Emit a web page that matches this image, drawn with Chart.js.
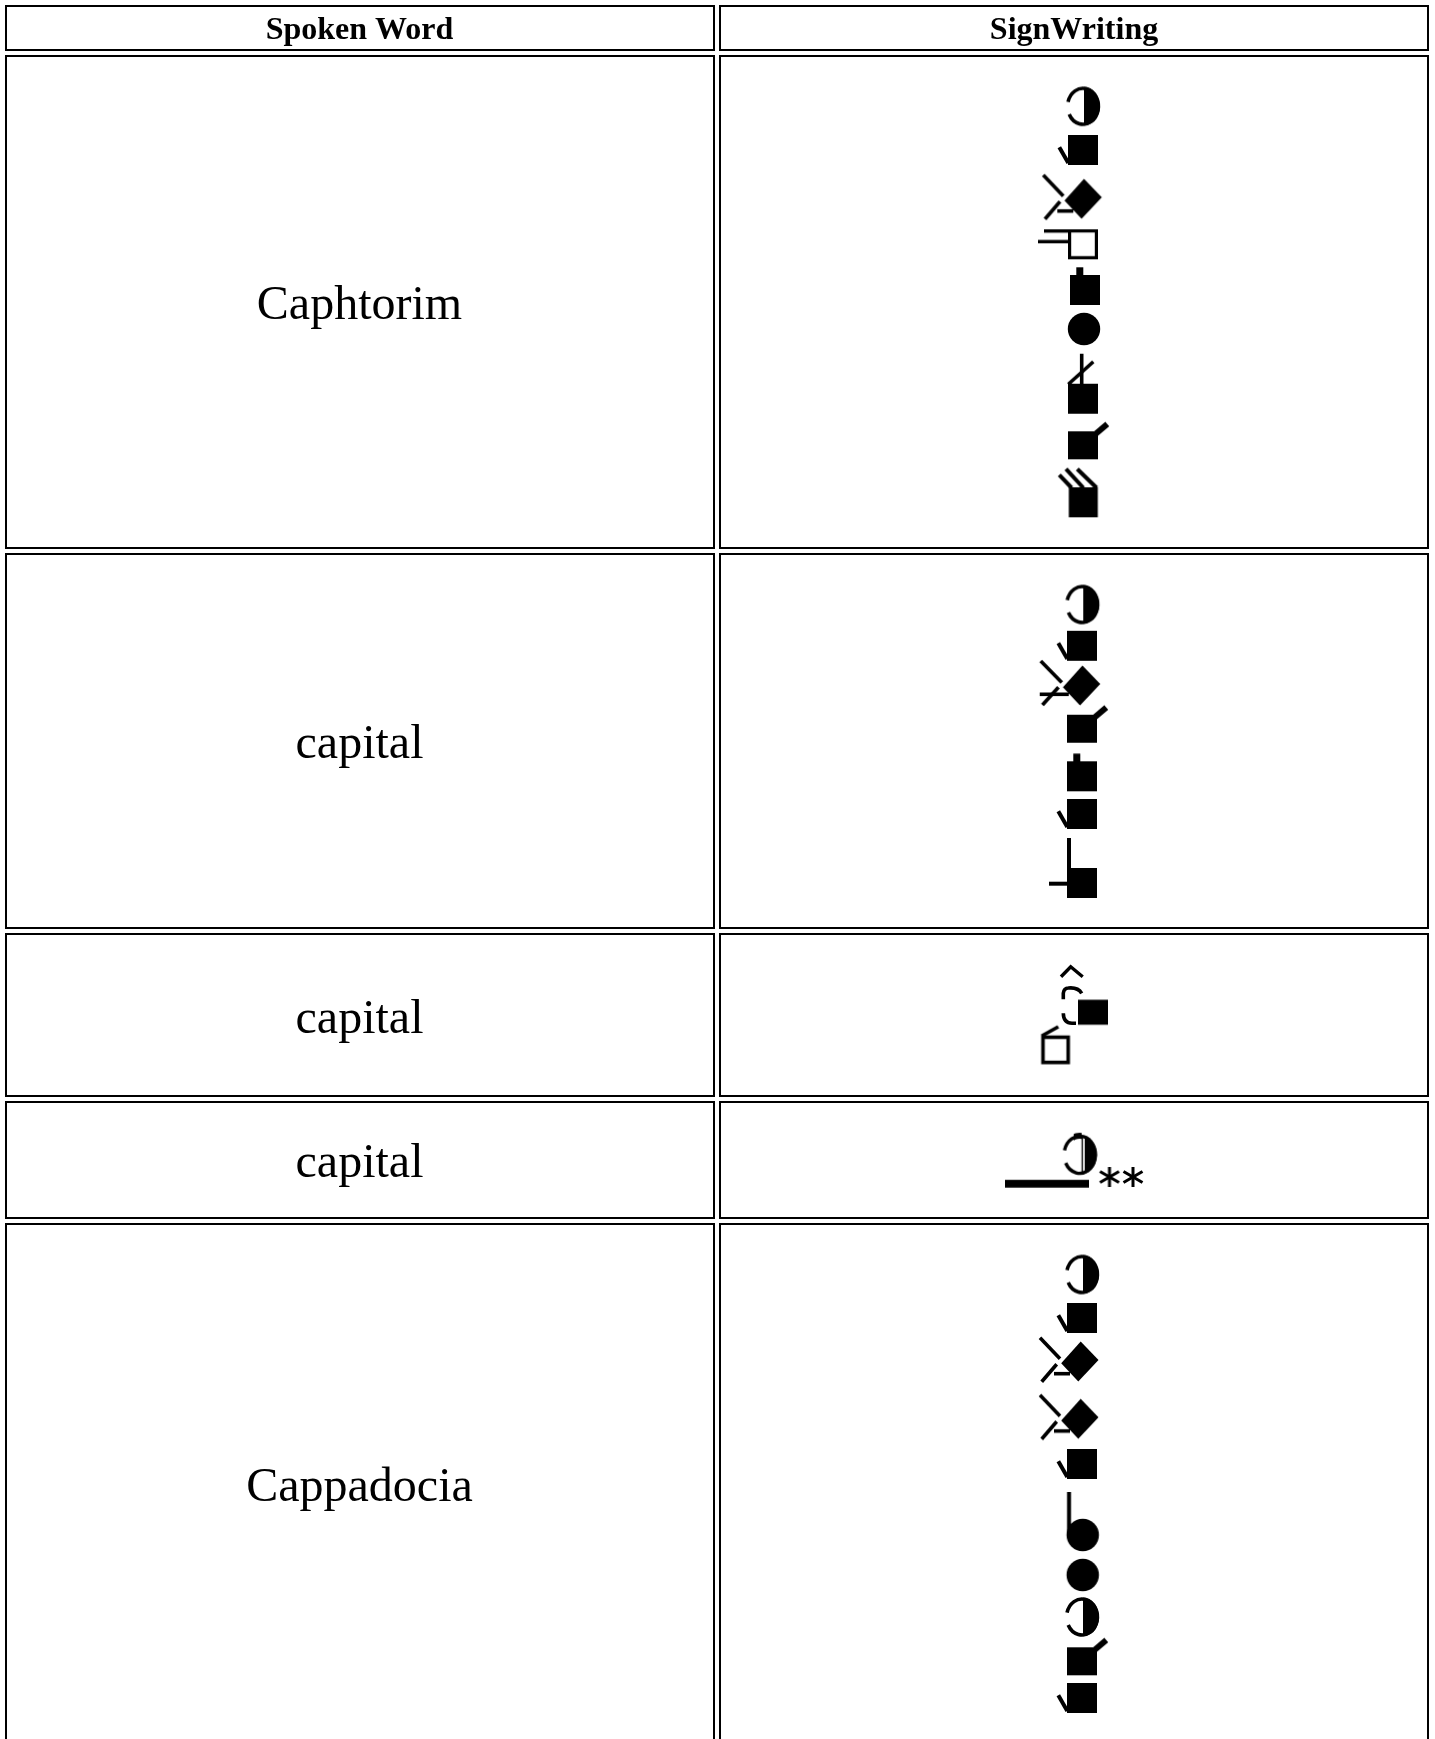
<!DOCTYPE html>
<html><head><meta charset="utf-8">
<style>html,body{margin:0;padding:0;background:#fff}canvas{display:block}</style>
<script src="https://cdn.jsdelivr.net/npm/chart.js@4"></script>
</head><body>
<canvas id="c" width="1435" height="1739" style="width:1435px;height:1739px"></canvas>
<script>
// table structure
const headerLabels = ['Spoken Word', 'SignWriting'];
const wordLabels = ['Caphtorim', 'capital', 'capital', 'capital', 'Cappadocia'];
const columnEdges = [[6, 714], [720, 1428]];
const rowEdges = [[6, 50], [56, 548], [554, 928], [934, 1096], [1102, 1218], [1224, 1800]];
const headerBaseline = 39;
const wordBaselines = [319, 758, 1033, 1177, 1501];
const columnCenters = [359.5, 1074];

// SignWriting symbol positions
const headAt = [[1083, 106.3], [1082.2, 604.5], [1082, 1274.5], [1082, 1617]];
const hookSquareAt = [[1083, 150], [1082, 645.8], [1082, 814], [1082, 1318], [1082, 1464], [1082, 1698]];
const armDiamondAt = [[1083.3, 198.3], [1080, 1361], [1080, 1418.3]];
const crossDiamondAt = [[1081.7, 685]];
const openLinesAt = [[1083, 244.3]];
const stemSquareAt = [[1085, 290], [1082, 776.3]];
const circleAt = [[1084, 329], [1082.7, 1575]];
const slashSquareAt = [[1083, 398.7]];
const tickSquareAt = [[1083, 445.3], [1082, 728.7], [1082, 1661.3]];
const combSquareAt = [[1083.3, 502.3]];
const elbowSquareAt = [[1082, 883]];
const stemBallAt = [[1082.7, 1535]];
const caretAt = [[1071, 972]];
const bracketAt = [[1070, 1005]];
const shortSquareAt = [[1093, 1012.2]];
const openTickAt = [[1055.5, 1049.7]];
const barAt = [[1047, 1183.7]];
const lineHeadAt = [[1079.7, 1154.7]];
const starAt = [[1109.5, 1177], [1133, 1177]];

// symbol stamps
function stamp(draw) {
  const s = document.createElement('canvas'); s.width = s.height = 160;
  const g = s.getContext('2d');
  g.translate(80, 80); g.filter = 'blur(0.55px)';
  g.fillStyle = g.strokeStyle = '#000'; g.lineCap = 'butt'; g.lineJoin = 'miter';
  draw(g); return s;
}
const sq = (g, w = 30, h = 30) => g.fillRect(-w / 2, -h / 2, w, h);
const ln = (g, w, ...p) => { g.lineWidth = w; g.beginPath(); p.forEach((q, i) => i ? g.lineTo(q[0], q[1]) : g.moveTo(q[0], q[1])); g.stroke(); };
const hook = g => ln(g, 4, [-23.7, -2.7], [-14.7, 13]);
const head = g => {
  g.lineWidth = 3.6; g.beginPath(); g.ellipse(0, 0, 15.4, 18, 0, Math.PI + 0.24, Math.PI - 0.46); g.stroke();
  g.save(); g.beginPath(); g.rect(1, -25, 30, 50); g.clip();
  g.beginPath(); g.ellipse(0, 0, 17, 19.5, 0, 0, 7); g.fill(); g.restore();
};
const diamond = g => { g.beginPath(); g.moveTo(0.7, -19.5); g.lineTo(18.5, -1); g.lineTo(-1.7, 20.5); g.lineTo(-18.8, 2.3); g.closePath(); g.fill(); };
const stamps = {
  head: stamp(head),
  hookSquare: stamp(g => { sq(g); hook(g); }),
  armDiamond: stamp(g => { diamond(g); ln(g, 3.6, [-40, -23.3], [-20, -2.3]); ln(g, 3.6, [-38.3, 20.7], [-23.3, 3.3]); ln(g, 3.6, [-26, 12.7], [-10, 12.7]); }),
  crossDiamond: stamp(g => { diamond(g); ln(g, 3.6, [-41, -24], [-20, -2.5]); ln(g, 3.6, [-42, 9.3], [-13, 9.3]); ln(g, 3.6, [-39.3, 20], [-23.3, 2.3]); }),
  openLines: stamp(g => { g.lineWidth = 3.2; g.strokeRect(-13.4, -13.4, 26.8, 26.8); ln(g, 3.4, [-39, -13.3], [-14, -13.3]); ln(g, 3.4, [-45, -2.7], [-14, -2.7]); }),
  stemSquare: stamp(g => { g.fillRect(-15, -15, 30, 30); g.fillRect(-8.7, -22.7, 7, 8); }),
  circle: stamp(g => { g.beginPath(); g.arc(0, 0, 16.2, 0, 7); g.fill(); }),
  slashSquare: stamp(g => { sq(g); ln(g, 3.6, [-1.3, -45], [-1.3, -14]); ln(g, 3.6, [10.3, -37], [-14.7, -14.5]); }),
  tickSquare: stamp(g => { sq(g, 30, 28); ln(g, 6, [11, -10], [24.3, -21.3]); }),
  combSquare: stamp(g => { g.fillRect(-14.5, -15, 29, 30); ln(g, 4, [-24, -27.3], [-11.7, -14.5]); ln(g, 4, [-17.3, -33.3], [0, -14.5]); ln(g, 4, [-6, -33.3], [13.3, -14.5]); }),
  elbowSquare: stamp(g => { sq(g); ln(g, 4, [-13, -45], [-13, -14]); ln(g, 4, [-33, 0.7], [-14, 0.7]); }),
  stemBall: stamp(g => { g.beginPath(); g.arc(0, 0, 16.2, 0, 7); g.fill(); ln(g, 4, [-13.7, -43], [-13.7, 0]); }),
  caret: stamp(g => ln(g, 3.4, [-10, 4.7], [-0.3, -5.3], [11.7, 4.7])),
  bracket: stamp(g => {
    g.lineWidth = 3.6; g.beginPath(); g.moveTo(-6.7, -5.7); g.lineTo(-6.7, -11.7); g.quadraticCurveTo(-6, -17, -1.7, -17); g.quadraticCurveTo(8, -18, 11.7, -11.7); g.stroke();
    g.beginPath(); g.moveTo(-6.7, 8.3); g.quadraticCurveTo(-6.5, 18.3, 2, 18.3); g.lineTo(6, 18.3); g.stroke();
  }),
  shortSquare: stamp(g => sq(g, 30, 25)),
  openTick: stamp(g => { g.lineWidth = 3.6; g.strokeRect(-12.5, -12.5, 25.2, 25.2); ln(g, 3.6, [-13.8, -13.7], [2.8, -23]); }),
  bar: stamp(g => g.fillRect(-42, -3.9, 84, 7.8)),
  lineHead: stamp(g => {
    g.lineWidth = 3.4; g.beginPath(); g.ellipse(0, 0, 15.7, 18.6, 0, Math.PI + 0.24, Math.PI - 0.46); g.stroke();
    g.save(); g.beginPath(); g.rect(5, -25, 30, 50); g.clip();
    g.beginPath(); g.ellipse(0, 0, 17.2, 20, 0, 0, 7); g.fill(); g.restore();
    ln(g, 1.4, [2.5, -18], [2.5, 18]);
    g.save(); g.beginPath(); g.rect(-6, -25, 8, 14); g.clip();
    g.beginPath(); g.ellipse(0, 0, 16, 19, 0, 0, 7); g.lineWidth = 6; g.stroke(); g.restore();
  }),
  star: stamp(g => { ln(g, 3, [0, -10], [0, 10]); ln(g, 3, [-9.5, -5.5], [9.5, 5.5]); ln(g, 3, [-9.5, 5.5], [9.5, -5.5]); })
};
const symbolTable = [
  ['head', headAt], ['hookSquare', hookSquareAt], ['armDiamond', armDiamondAt], ['crossDiamond', crossDiamondAt],
  ['openLines', openLinesAt], ['stemSquare', stemSquareAt], ['circle', circleAt], ['slashSquare', slashSquareAt],
  ['tickSquare', tickSquareAt], ['combSquare', combSquareAt], ['elbowSquare', elbowSquareAt], ['stemBall', stemBallAt],
  ['caret', caretAt], ['bracket', bracketAt], ['shortSquare', shortSquareAt], ['openTick', openTickAt],
  ['bar', barAt], ['lineHead', lineHeadAt], ['star', starAt]
];
const pts = a => a.map(p => ({ x: p[0], y: p[1] }));

const datasets = [];
columnEdges.forEach(([l, r]) => rowEdges.forEach(([t, b]) => datasets.push({
  type: 'line', data: pts([[l, t], [r, t], [r, b], [l, b], [l, t]]), borderColor: '#000', borderWidth: 2,
  borderCapStyle: 'square', borderJoinStyle: 'miter', pointRadius: 0, tension: 0, fill: false
})));
symbolTable.forEach(([name, at]) => datasets.push({
  type: 'scatter', label: name, data: pts(at), pointStyle: stamps[name], pointRadius: 40, pointHoverRadius: 40, showLine: false
}));

const tableText = {
  id: 'tableText',
  afterDatasetsDraw(chart) {
    const { ctx, scales: { x, y } } = chart;
    ctx.save(); ctx.fillStyle = '#000'; ctx.textAlign = 'center'; ctx.textBaseline = 'alphabetic';
    ctx.font = 'bold 32px "Liberation Serif"';
    headerLabels.forEach((t, i) => ctx.fillText(t, x.getPixelForValue(columnCenters[i]), y.getPixelForValue(headerBaseline)));
    ctx.font = '48px "Liberation Serif"';
    wordLabels.forEach((t, i) => ctx.fillText(t, x.getPixelForValue(columnCenters[0]), y.getPixelForValue(wordBaselines[i])));
    ctx.restore();
  }
};

new Chart(document.getElementById('c'), {
  type: 'scatter',
  data: { datasets },
  plugins: [tableText],
  options: {
    responsive: false, animation: false, events: [],
    layout: { padding: 0, autoPadding: false },
    plugins: { legend: { display: false }, tooltip: { enabled: false }, title: { display: false } },
    scales: {
      x: { type: 'linear', min: 0, max: 1435, display: false },
      y: { type: 'linear', min: 0, max: 1739, reverse: true, display: false }
    }
  }
});
</script>
</body></html>
